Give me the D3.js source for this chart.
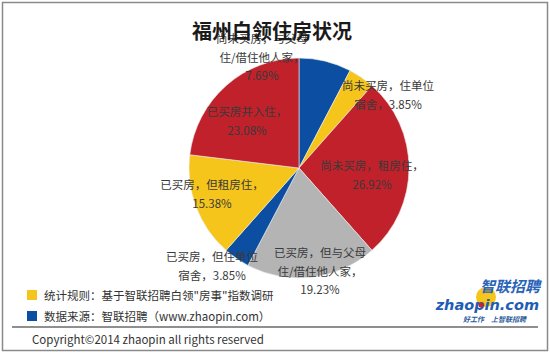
<!DOCTYPE html>
<html>
  <head>
    <meta charset="utf-8" />
    <title>福州白领住房状况</title>
    <script src="https://cdn.jsdelivr.net/npm/d3@7"></script>
  </head>

  <style>
    body {
      background: #fff;
      margin: 0px;
      padding: 0px;
      overflow: hidden;
    }

    text {
      font-family: "Noto Sans CJK SC", "Noto Sans", sans-serif;
    }

    .label {
      font-size: 11.5px;
      fill: #3a3a3a;
    }

    .title {
      font-size: 20px;
      font-weight: bold;
      fill: #1a1a1a;
    }

    .note {
      font-size: 11.5px;
      fill: #333;
    }
  </style>

  <body>
    <script>

      // slices, clockwise from 12 o'clock
      var categories = [
        "尚未买房，与父母住/借住他人家",
        "尚未买房，住单位宿舍",
        "尚未买房，租房住",
        "已买房，但与父母住/借住他人家",
        "已买房，但住单位宿舍",
        "已买房，但租房住",
        "已买房并入住"
      ];
      var values = [7.69, 3.85, 26.92, 19.23, 3.85, 15.38, 23.08];

      // label lines as printed in the picture
      var labelLines = [
        ["尚未买房，与父母", "住/借住他人家，", "7.69%"],
        ["尚未买房，住单位", "宿舍，3.85%"],
        ["尚未买房，租房住，", "26.92%"],
        ["已买房，但与父母", "住/借住他人家，", "19.23%"],
        ["已买房，但住单位", "宿舍，3.85%"],
        ["已买房，但租房住，", "15.38%"],
        ["已买房并入住，", "23.08%"]
      ];

      var legendItems = [
        "统计规则：基于智联招聘白领\"房事\"指数调研",
        "数据来源：智联招聘（www.zhaopin.com）"
      ];

      var width = 550, height = 354;
      var cx = 299, cy = 168, radius = 110;

      var colors = ["#0b4ea2", "#f5c51b", "#c0212b", "#b4b4b4", "#0b4ea2", "#f5c51b", "#c0212b"];

      // where each label block sits (centre x, first line y)
      var labelPos = [
        [262, 43], [388, 90], [372, 170], [320, 257], [212, 261], [212, 189], [247, 116]
      ];

      var svg = d3.select("body").append("svg")
          .attr("width", width)
          .attr("height", height);

      // outer frame
      svg.append("rect")
          .attr("x", 2.5).attr("y", 2.5)
          .attr("width", 545).attr("height", 348)
          .style("fill", "none")
          .style("stroke", "#8a8a8a")
          .style("stroke-width", 1.5);

      var pie = d3.pie().sort(null).value(function(d) { return d; });
      var arc = d3.arc().innerRadius(0).outerRadius(radius);

      var g = svg.append("g")
          .attr("transform", "translate(" + cx + "," + cy + ")");

      g.selectAll(".slice")
          .data(pie(values))
        .enter().append("path")
          .attr("class", "slice")
          .attr("d", arc)
          .style("fill", function(d, i) { return colors[i]; })
          .style("stroke", "#eee")
          .style("stroke-width", 0.6);

      var lineH = 18.5;

      svg.selectAll(".label")
          .data(labelLines)
        .enter().append("text")
          .attr("class", "label")
          .attr("text-anchor", "middle")
          .each(function(lines, i) {
            var t = d3.select(this);
            lines.forEach(function(l, j) {
              t.append("tspan")
                .attr("x", labelPos[i][0])
                .attr("y", labelPos[i][1] + j * lineH)
                .text(l);
            });
          });

      svg.append("text")
          .attr("class", "title")
          .attr("x", 272)
          .attr("y", 39)
          .attr("text-anchor", "middle")
          .text("福州白领住房状况");

      // legend / notes
      var legendColors = ["#f5c51b", "#0b4ea2"];
      var leg = svg.selectAll(".leg")
          .data(legendItems)
        .enter().append("g")
          .attr("class", "leg")
          .attr("transform", function(d, i) { return "translate(27," + (290 + i * 21) + ")"; });

      leg.append("rect")
          .attr("width", 10).attr("height", 10)
          .style("fill", function(d, i) { return legendColors[i]; });

      leg.append("text")
          .attr("class", "note")
          .attr("x", 17)
          .attr("y", 9.5)
          .text(function(d) { return d; });

      svg.append("line")
          .attr("x1", 12).attr("x2", 538)
          .attr("y1", 327).attr("y2", 327)
          .style("stroke", "#6a6a6a")
          .style("stroke-width", 1.5);

      svg.append("text")
          .attr("class", "note")
          .attr("x", 32)
          .attr("y", 344)
          .text("Copyright\u00a92014 zhaopin all rights reserved");

      // logo
      var logo = svg.append("g");
      logo.append("circle")
          .attr("cx", 486).attr("cy", 297).attr("r", 10)
          .style("fill", "#f5c51b");
      logo.append("text")
          .attr("x", 540).attr("y", 292)
          .attr("text-anchor", "end")
          .style("font-size", "15px")
          .style("font-style", "italic")
          .style("font-weight", "bold")
          .style("fill", "#2a63b8")
          .text("智联招聘");
      logo.append("text")
          .attr("x", 539).attr("y", 310)
          .attr("text-anchor", "end")
          .style("font-family", "'DejaVu Sans', sans-serif")
          .style("font-size", "14.5px")
          .style("font-style", "italic")
          .style("font-weight", "bold")
          .style("fill", "#1f5cb5")
          .text("zhaopin.com");
      logo.append("circle")
          .attr("cx", 481).attr("cy", 305).attr("r", 2.5)
          .style("fill", "#d0202a");
      logo.append("text")
          .attr("x", 526).attr("y", 322)
          .attr("text-anchor", "end")
          .style("font-size", "7px")
          .style("font-style", "italic")
          .style("font-weight", "bold")
          .style("fill", "#2a5a9a")
          .text("好工作　上智联招聘");

    </script>
  </body>
</html>
